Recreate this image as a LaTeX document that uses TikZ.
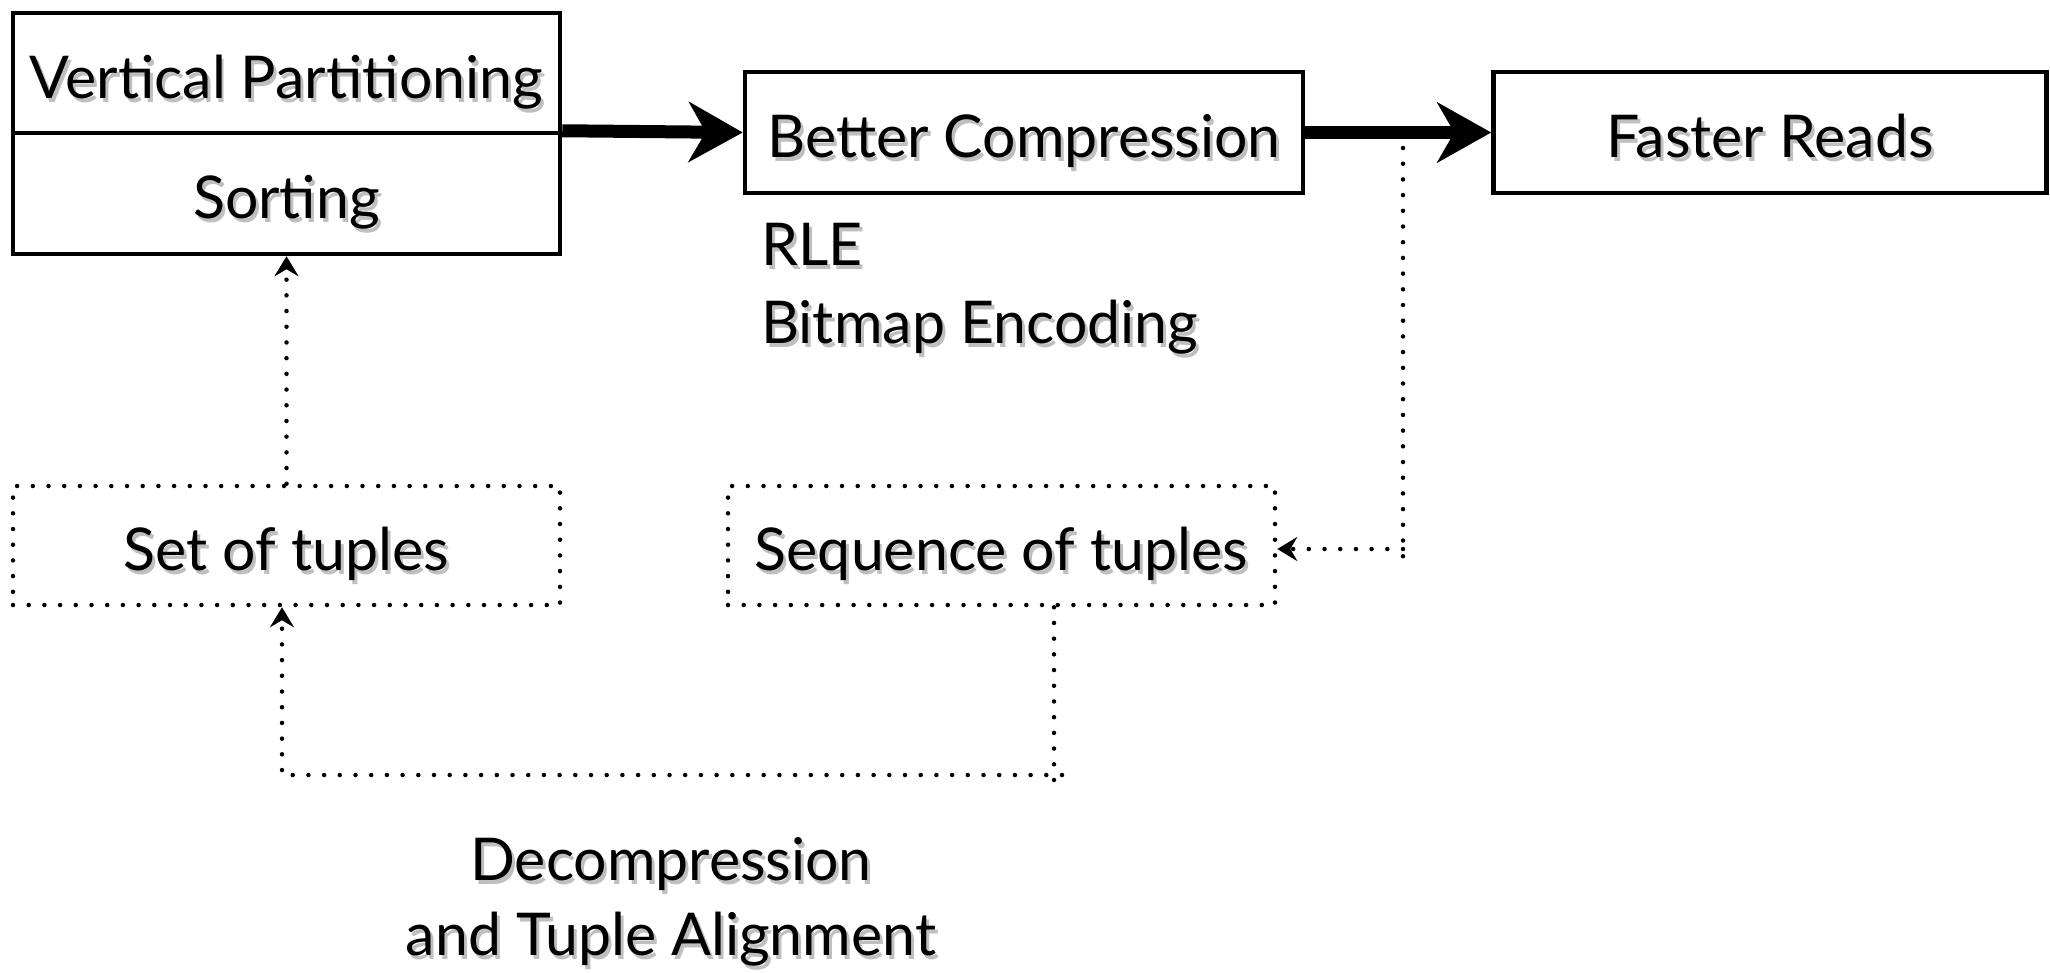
\documentclass[tikz,border=0pt]{standalone}
\usepackage{fontspec}
\setmainfont{Lato}
\usetikzlibrary{arrows.meta}
% text with a soft drop shadow behind it
\newcommand\shd[1]{\makebox[0pt][l]{\hspace*{3pt}\raisebox{-4pt}{\color{black!25}#1}}#1}
\begin{document}
\begin{tikzpicture}[x=1pt,y=-1pt,
  lbl/.style={font=\fontsize{59}{70}\selectfont, inner sep=0pt},
  boxtext/.style={lbl, text height=50pt, text depth=0pt},
  solidbox/.style={draw, line width=4.5pt, boxtext},
  dotbox/.style={draw, line width=4.5pt, boxtext, line cap=round,
    dash pattern=on 0pt off 15.7pt},
  bigarrow/.style={line width=13pt, -{Stealth[length=54pt,width=60pt,inset=17pt]}},
  dotline/.style={line width=4.5pt, line cap=round, dash pattern=on 0pt off 15.7pt},
  dotarrow/.style={dotline, -{Stealth[length=20pt,width=24pt,inset=7pt,line cap=butt]}}
]
\useasboundingbox (0,0) rectangle (2050,972);

% solid boxes
\node[solidbox, minimum width=547pt, minimum height=120pt] (vp) at (286.5,73) {\shd{Vertical Partitioning}};
\node[solidbox, minimum width=547pt, minimum height=121pt] (sort) at (286.5,193.5) {\shd{Sorting}};
\node[solidbox, minimum width=558pt, minimum height=121pt] (bc) at (1024,132.5) {\shd{Better Compression}};
\node[solidbox, minimum width=553pt, minimum height=121pt] (fr) at (1770,132.5) {\shd{Faster Reads}};

% dotted boxes
\node[dotbox, minimum width=547pt, minimum height=119pt] (set) at (286.5,545.5) {\shd{Set of tuples}};
\node[dotbox, minimum width=547pt, minimum height=119pt] (seq) at (1001.5,545.5) {\shd{Sequence of tuples}};

% labels
\node[lbl, anchor=base west] (rle) at (761,265) {\shd{RLE}};
\node[lbl, anchor=base west] (bme) at (761,343) {\shd{Bitmap Encoding}};
\node[lbl, anchor=base] (dec) at (671,880) {\shd{Decompression}};
\node[lbl, anchor=base] (ta) at (671,955) {\shd{and Tuple Alignment}};

% main flow
\draw[bigarrow] (sort.north east) -- (bc.west);
\draw[bigarrow] (bc.east) -- (fr.west);

% feedback paths
\draw[dotarrow] (set.north) -- (sort.south);

\coordinate (tapTop) at (1403,148);
\coordinate (tapBot) at (1403,563);
\coordinate (tapMid) at (1403,549);
\draw[dotline] (tapTop) -- (tapBot);
\draw[dotarrow] (tapMid) -- (seq.east |- tapMid);

\coordinate (loopR) at (1062,775);
\coordinate (loopL) at (282,775);
\coordinate (seqDrop) at (1054,791);
\draw[dotline] ([xshift=52.5pt]seq.south) -- (seqDrop);
\draw[dotarrow] (loopR) -- (loopL) -- (loopL |- set.south);
\end{tikzpicture}
\end{document}
